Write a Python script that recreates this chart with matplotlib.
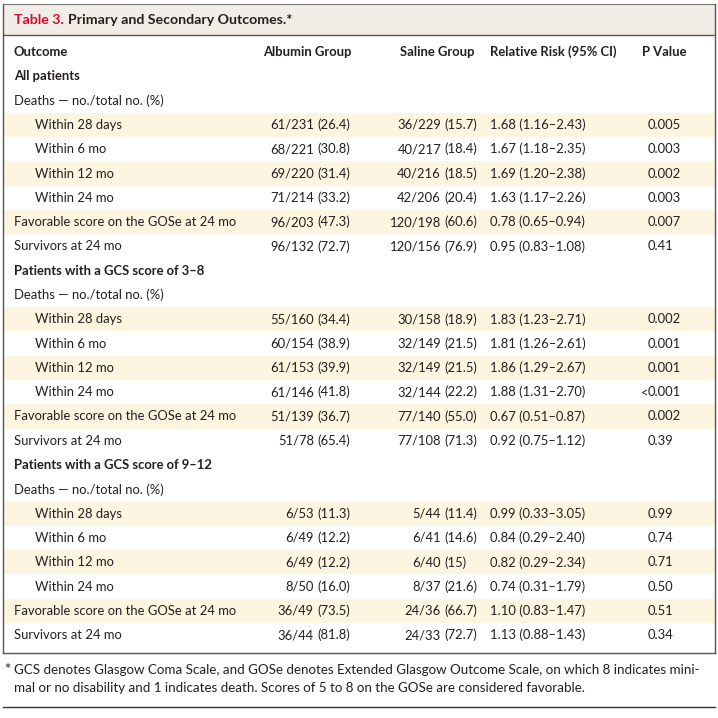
import matplotlib
matplotlib.use("Agg")
import matplotlib.pyplot as plt
from matplotlib.patches import Rectangle

# ---------- DATA ----------
TITLE_NUM = "Table 3."
TITLE_TEXT = "Primary and Secondary Outcomes.*"
HEADERS = ["Outcome", "Albumin Group", "Saline Group", "Relative Risk (95% CI)", "P Value"]
SECTIONS = ["All patients", "Patients with a GCS score of 3\u20138", "Patients with a GCS score of 9\u201312"]
DEATHS_LABEL = "Deaths \u2014 no./total no. (%)"
OUTCOMES = ["Within 28 days", "Within 6 mo", "Within 12 mo", "Within 24 mo",
            "Favorable score on the GOSe at 24 mo", "Survivors at 24 mo"]
INDENTED = [True, True, True, True, False, False]

albumin = [
    ["61/231 (26.4)", "68/221 (30.8)", "69/220 (31.4)", "71/214 (33.2)", "96/203 (47.3)", "96/132 (72.7)"],
    ["55/160 (34.4)", "60/154 (38.9)", "61/153 (39.9)", "61/146 (41.8)", "51/139 (36.7)", "51/78 (65.4)"],
    ["6/53 (11.3)", "6/49 (12.2)", "6/49 (12.2)", "8/50 (16.0)", "36/49 (73.5)", "36/44 (81.8)"],
]
saline = [
    ["36/229 (15.7)", "40/217 (18.4)", "40/216 (18.5)", "42/206 (20.4)", "120/198 (60.6)", "120/156 (76.9)"],
    ["30/158 (18.9)", "32/149 (21.5)", "32/149 (21.5)", "32/144 (22.2)", "77/140 (55.0)", "77/108 (71.3)"],
    ["5/44 (11.4)", "6/41 (14.6)", "6/40 (15)", "8/37 (21.6)", "24/36 (66.7)", "24/33 (72.7)"],
]
rel_risk = [
    ["1.68 (1.16\u20132.43)", "1.67 (1.18\u20132.35)", "1.69 (1.20\u20132.38)", "1.63 (1.17\u20132.26)",
     "0.78 (0.65\u20130.94)", "0.95 (0.83\u20131.08)"],
    ["1.83 (1.23\u20132.71)", "1.81 (1.26\u20132.61)", "1.86 (1.29\u20132.67)", "1.88 (1.31\u20132.70)",
     "0.67 (0.51\u20130.87)", "0.92 (0.75\u20131.12)"],
    ["0.99 (0.33\u20133.05)", "0.84 (0.29\u20132.40)", "0.82 (0.29\u20132.34)", "0.74 (0.31\u20131.79)",
     "1.10 (0.83\u20131.47)", "1.13 (0.88\u20131.43)"],
]
p_values = [
    ["0.005", "0.003", "0.002", "0.003", "0.007", "0.41"],
    ["0.002", "0.001", "0.001", "<0.001", "0.002", "0.39"],
    ["0.99", "0.74", "0.71", "0.50", "0.51", "0.34"],
]
FOOTNOTE = ["GCS denotes Glasgow Coma Scale, and GOSe denotes Extended Glasgow Outcome Scale, on which 8 indicates mini-",
            "mal or no disability and 1 indicates death. Scores of 5 to 8 on the GOSe are considered favorable."]

# ---------- STYLE ----------
FONT = ["Lato", "DejaVu Sans"]
FS = 9.4
FS_NOTE = 9.6
TXT = "#231f20"
RED = "#c8102e"
BAND = "#fdf5e0"
TITLE_BG = "#f2eee7"

X_LABEL, X_INDENT = 14, 35
X_ALB, X_SAL = 317, 444      # position of the "(" in the count columns
X_RR, X_P = 490, 648
Y0, STEP = 52, 24.3

fig = plt.figure(figsize=(7.18, 7.18), dpi=100)
ax = fig.add_axes([0, 0, 1, 1])
ax.set_xlim(0, 718)
ax.set_ylim(718, 0)
ax.axis("off")


def txt(x, y, s, ha="left", bold=False, color=TXT, size=FS):
    ax.text(x, y, s, ha=ha, va="center", fontsize=size, color=color,
            fontweight="bold" if bold else "normal", family=FONT)


def count_cell(x, y, s):
    # align on the opening parenthesis
    left, right = s.split(" ", 1)
    txt(x - 3, y, left, ha="right")
    txt(x, y, right)


def p_cell(x, y, s):
    if s.startswith("<"):
        txt(x, y, "<", ha="right")
        s = s[1:]
    txt(x, y, s)


# title band
ax.add_patch(Rectangle((3, 4), 712, 31, facecolor=TITLE_BG, edgecolor="none"))
ax.plot([3, 715], [4, 4], color="#7a7a7a", lw=0.8)
ax.plot([3, 715], [35, 35], color="#555555", lw=1.0)
t1 = ax.text(X_LABEL, 20, TITLE_NUM, ha="left", va="center", fontsize=10.2, color=RED,
             fontweight="bold", family=FONT)
fig.canvas.draw()
bb = t1.get_window_extent()
x_after = ax.transData.inverted().transform((bb.x1, bb.y0))[0]
txt(x_after + 4, 20, TITLE_TEXT, bold=True, size=10.2)

# table frame
ax.plot([3, 3], [4, 653], color="#555555", lw=1.0)
ax.plot([715, 715], [4, 653], color="#555555", lw=1.0)
ax.plot([3, 715], [653, 653], color="#555555", lw=1.0)

# header
y = Y0
txt(X_LABEL, y, HEADERS[0], bold=True)
txt(307, y, HEADERS[1], ha="center", bold=True)
txt(474, y, HEADERS[2], ha="right", bold=True)
txt(X_RR, y, HEADERS[3], bold=True)
txt(664, y, HEADERS[4], ha="center", bold=True)

row = 1
for si, sec in enumerate(SECTIONS):
    y = Y0 + row * STEP
    txt(X_LABEL, y, sec, bold=True)
    row += 1
    y = Y0 + row * STEP
    txt(X_LABEL, y, DEATHS_LABEL)
    row += 1
    for oi, lab in enumerate(OUTCOMES):
        y = Y0 + row * STEP
        if oi % 2 == 0:
            ax.add_patch(Rectangle((3.5, y - STEP / 2), 711, STEP, facecolor=BAND,
                                   edgecolor="none", zorder=0))
        txt(X_INDENT if INDENTED[oi] else X_LABEL, y, lab)
        count_cell(X_ALB, y, albumin[si][oi])
        count_cell(X_SAL, y, saline[si][oi])
        txt(X_RR, y, rel_risk[si][oi])
        p_cell(X_P, y, p_values[si][oi])
        row += 1

# footnote
txt(4, 670, "*", size=FS_NOTE + 1)
txt(14, 670, FOOTNOTE[0], size=FS_NOTE)
txt(14, 688, FOOTNOTE[1], size=FS_NOTE)
ax.plot([3, 715], [707, 707], color="#333333", lw=1.0)

fig.savefig("out.png", dpi=100)
